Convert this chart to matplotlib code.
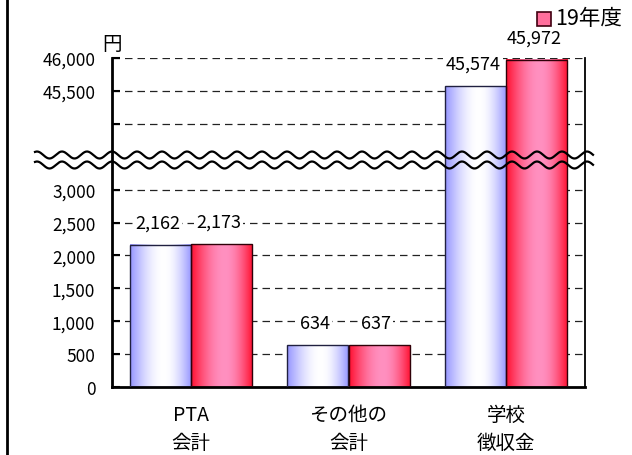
import numpy as np
import matplotlib.pyplot as plt
from matplotlib.lines import Line2D
from matplotlib.patches import Rectangle
from matplotlib.colors import to_rgb

plt.rcParams['font.family'] = ['Noto Sans CJK JP', 'DejaVu Sans']

# ---- data ----
categories = ["PTA\n会計", "その他の\n会計", "学校\n徴収金"]
prev_year = [2162, 634, 45574]      # 前年度 (legend entry cut off in the original)
this_year = [2173, 637, 45972]
this_label = "19年度"
unit = "円"

tick_values = [0, 500, 1000, 1500, 2000, 2500, 3000, 45000, 45500, 46000]
tick_labels = ["0", "500", "1,000", "1,500", "2,000", "2,500", "3,000", "", "45,500", "46,000"]

# broken axis: values above the break are shifted down
BREAK_LO, BREAK_HI = 3500, 44500
def pos(v):
    return v if v <= BREAK_LO else v - (BREAK_HI - BREAK_LO)

W, H = 632, 456
fig = plt.figure(figsize=(W / 100, H / 100), dpi=100)
ax = fig.add_axes([112 / W, 1 - 388 / H, (585 - 112) / W, (388 - 59) / H])

x = np.arange(len(categories))
bw = 0.387


def gradient(edge, center, peak=0.55, n=200):
    t = np.linspace(0, 1, n)
    w = np.where(t < peak, t / peak, (1 - t) / (1 - peak))
    w = np.sin(w * np.pi / 2)
    e = np.array(to_rgb(edge)); c = np.array(to_rgb(center))
    return (e[None, :] * (1 - w[:, None]) + c[None, :] * w[:, None])[None, :, :]


blue_grad = gradient("#9595ff", "#ffffff")
red_grad = gradient("#ff1030", "#ff90c0")

for xs, vals, grad, ec in [(x - bw / 2, prev_year, blue_grad, "#202040"),
                           (x + bw / 2, this_year, red_grad, "#300008")]:
    for xc, v in zip(xs, vals):
        top = pos(v)
        ax.imshow(grad, extent=[xc - bw / 2, xc + bw / 2, 0, top], aspect="auto",
                  interpolation="bilinear", zorder=2)
        ax.add_patch(Rectangle((xc - bw / 2, 0), bw, top, fill=False,
                               edgecolor=ec, lw=1.0, zorder=3))
        ax.annotate(f"{v:,}", (xc, top), xytext=(-2, 16), textcoords="offset points",
                    ha="center", va="center", fontsize=13, zorder=4,
                    bbox=dict(boxstyle="square,pad=0.12", fc="white", ec="none"))

ax.set_xlim(-0.5, 2.5)
ax.set_ylim(0, pos(46000))

# gridlines
for v in tick_values[1:]:
    ax.axhline(pos(v), color="#222222", lw=0.9, ls=(0, (6, 4)), zorder=1)

ax.set_yticks([pos(v) for v in tick_values])
ax.set_yticklabels(tick_labels, fontsize=12.5)
ax.tick_params(axis="y", direction="in", length=6, width=1.5, pad=12)
ax.set_xticks(x)
ax.set_xticklabels(categories, fontsize=14, linespacing=1.45)
ax.tick_params(axis="x", length=0, pad=12)

ax.spines["top"].set_visible(False)
ax.spines["left"].set_linewidth(2.0)
ax.spines["bottom"].set_linewidth(2.0)
ax.spines["right"].set_linewidth(1.3)

ax.text(0, 1.012, unit, transform=ax.transAxes, ha="center", va="bottom", fontsize=14)

# break marks (two wavy lines across the axis)
xp = np.linspace(35, 593, 800)
for yc in (156, 166):
    yp = yc - 3.5 * np.cos(2 * np.pi * (xp - 112) / 25)
    fig.add_artist(Line2D(xp / W, 1 - yp / H, color="black", lw=1.6,
                          transform=fig.transFigure, zorder=10))

# legend (only the visible entry)
fig.add_artist(Rectangle((537 / W, 1 - 27 / H), 14 / W, 14 / H, transform=fig.transFigure,
                         facecolor="#ff6f9c", edgecolor="#400010", lw=1.2))
fig.text(555 / W, 1 - 19 / H, this_label, ha="left", va="center", fontsize=15.5)

# outer frame on the left
fig.add_artist(Line2D([7 / W, 7 / W], [0, 1], color="black", lw=2.0,
                      transform=fig.transFigure))

fig.savefig("out.png", dpi=100)
